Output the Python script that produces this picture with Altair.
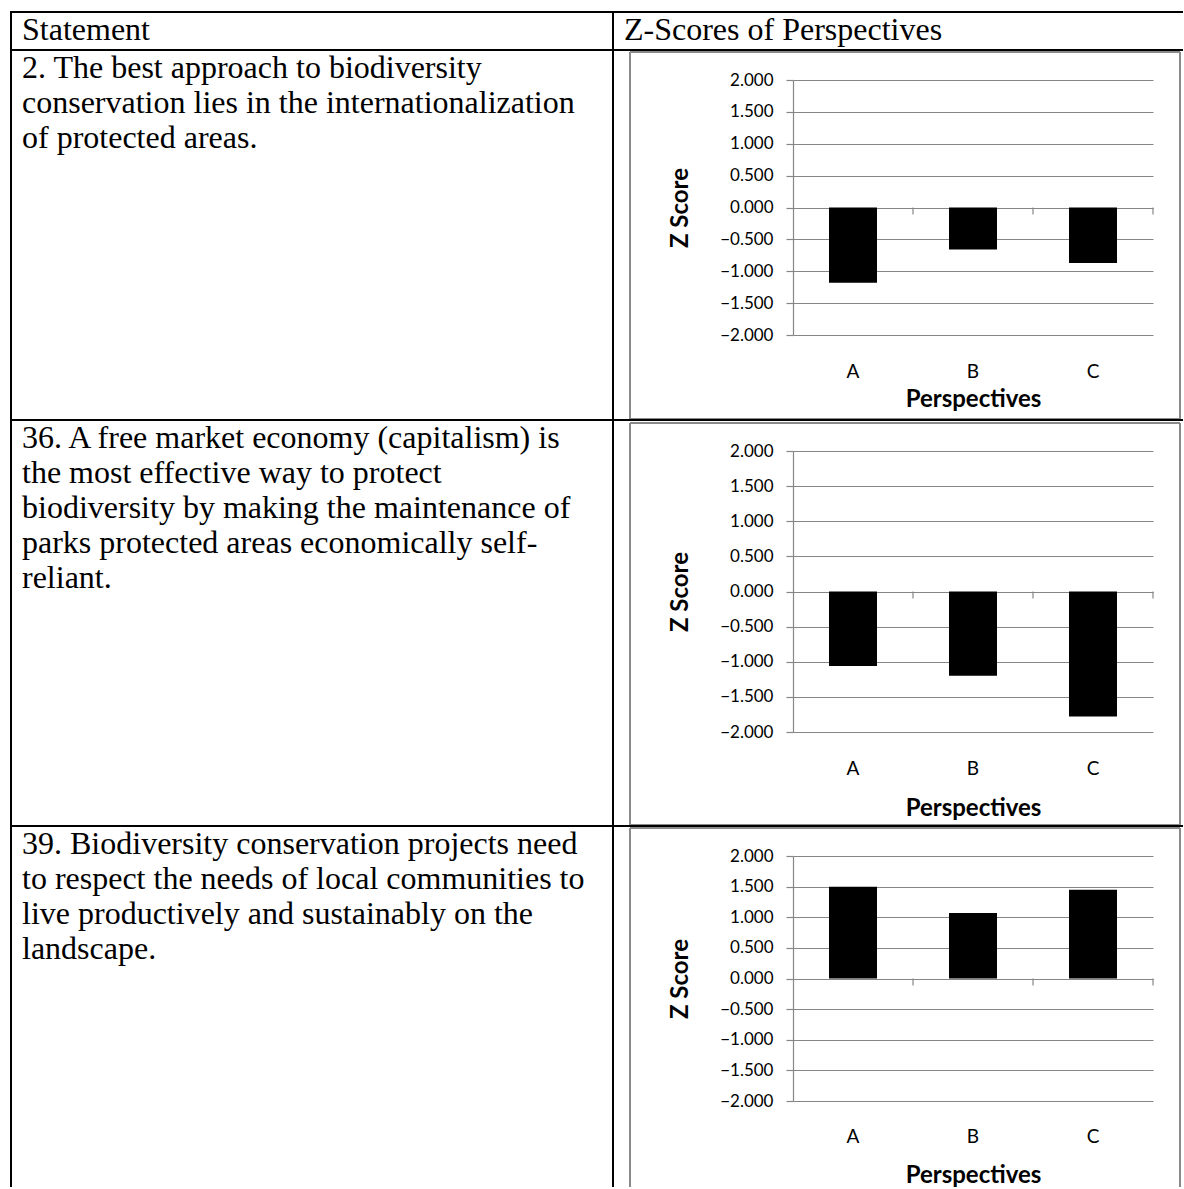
import altair as alt
import pandas as pd

# ---------------- data ----------------
perspectives = ["A", "B", "C"]
statements = [
    "2. The best approach to biodiversity\nconservation lies in the internationalization\nof protected areas.",
    "36. A free market economy (capitalism) is\nthe most effective way to protect\nbiodiversity by making the maintenance of\nparks protected areas economically self-\nreliant.",
    "39. Biodiversity conservation projects need\nto respect the needs of local communities to\nlive productively and sustainably on the\nlandscape.",
]
z_statement_2 = [-1.18, -0.66, -0.87]
z_statement_36 = [-1.06, -1.20, -1.78]
z_statement_39 = [1.50, 1.07, 1.45]
z_rows = [z_statement_2, z_statement_36, z_statement_39]
y_tick_values = [-2.0, -1.5, -1.0, -0.5, 0.0, 0.5, 1.0, 1.5, 2.0]
header_labels = ["Statement", "Z-Scores of Perspectives"]
y_title = "Z Score"
x_title = "Perspectives"

# ---------------- layout (page pixels) ----------------
PLOT_X = 793
PLOT_W = 360
PLOT_TOP = [80, 451, 856]
PLOT_H = [255, 281, 245]
HEADER_TOP = 12
ROW_TOP = [50, 420, 826]
TABLE_LEFT = 11
TABLE_MID = 613
PAGE_RIGHT = 1183
PAGE_BOTTOM = 1187
FRAME_L, FRAME_R = 630, 1180
FRAME_TB = [(52, 419), (423, 825), (828, None)]
XLAB_PAD = [27, 27, 26]
XTITLE_Y = [64, 76, 74]
TEXT_X_LEFT = 22
TEXT_X_RIGHT = 624
TEXT_SIZE = 32
TEXT_BASE = 28
LINE_H = 35

GRID = "#868686"
FRAME = "#8a8a8a"

ox, oy = PLOT_X, PLOT_TOP[0]
one = pd.DataFrame({"k": [0]})


def hline(y, x1, x2, color="black", w=2):
    return alt.Chart(one).mark_rule(color=color, strokeWidth=w).encode(
        x=alt.value(x1 - ox), x2=alt.value(x2 - ox), y=alt.value(y - oy)
    )


def vline(x, y1, y2, color="black", w=2):
    return alt.Chart(one).mark_rule(color=color, strokeWidth=w).encode(
        x=alt.value(x - ox), y=alt.value(y1 - oy), y2=alt.value(y2 - oy)
    )


def label(txt, x, y, size=TEXT_SIZE):
    return alt.Chart(one).mark_text(
        align="left", baseline="alphabetic", font="Liberation Serif",
        fontSize=size, lineBreak="\n", lineHeight=LINE_H, color="black"
    ).encode(x=alt.value(x - ox), y=alt.value(y - oy), text=alt.value(txt))


overlay = []
# white anchor so the page starts at (0, 0)
overlay.append(hline(0.5, 0.5, PAGE_RIGHT + 0.5, color="white", w=1))
# grey chart frames
for (t, b) in FRAME_TB:
    bb = b if b is not None else PAGE_BOTTOM
    overlay.append(hline(t, FRAME_L, FRAME_R, color=FRAME, w=2))
    overlay.append(vline(FRAME_L, t, bb, color=FRAME, w=2))
    overlay.append(vline(FRAME_R, t, bb, color=FRAME, w=2))
    if b is not None:
        overlay.append(hline(b, FRAME_L, FRAME_R, color=FRAME, w=2))
# black table lines
for y in [HEADER_TOP] + ROW_TOP:
    overlay.append(hline(y, TABLE_LEFT - 1, PAGE_RIGHT))
overlay.append(vline(TABLE_LEFT, HEADER_TOP - 1, PAGE_BOTTOM))
overlay.append(vline(TABLE_MID, HEADER_TOP - 1, PAGE_BOTTOM))
# header and statements
overlay.append(label(header_labels[0], TEXT_X_LEFT, HEADER_TOP + 28))
overlay.append(label(header_labels[1], TEXT_X_RIGHT, HEADER_TOP + 28))
for i, s in enumerate(statements):
    overlay.append(label(s, TEXT_X_LEFT, ROW_TOP[i] + TEXT_BASE))


def row_chart(i):
    H = PLOT_H[i]
    df = pd.DataFrame({"Perspective": perspectives, "Z": z_rows[i]})
    xscale = alt.Scale(domain=perspectives, paddingInner=0, paddingOuter=0)
    xaxis = alt.Axis(
        title=x_title, labelAngle=0, domain=False, ticks=False, tickSize=0,
        grid=False, labelFont="Lato", labelFontSize=19, labelColor="black",
        labelPadding=XLAB_PAD[i], titleFont="Lato", titleFontSize=24,
        titleFontWeight="bold", titleColor="black", titleY=XTITLE_Y[i],
        titleBaseline="middle",
    )
    yaxis = alt.Axis(
        values=y_tick_values, format=".3f", title=y_title,
        labelFont="Lato", labelFontSize=17, labelColor="black", labelPadding=13,
        tickSize=7, tickColor=GRID, domainColor=GRID, gridColor=GRID,
        gridWidth=1.2, domainWidth=1.2, tickWidth=1.2,
        titleFont="Lato", titleFontSize=24, titleFontWeight="bold",
        titleColor="black", titleX=-113, titleY=H / 2, titleAngle=270,
        titleAlign="center", titleBaseline="middle",
    )
    bars = alt.Chart(df).mark_bar(
        color="black", width=alt.RelativeBandSize(band=0.4)
    ).encode(
        x=alt.X("Perspective:N", sort=perspectives, scale=xscale, axis=xaxis),
        y=alt.Y("Z:Q", scale=alt.Scale(domain=[-2, 2], nice=False, zero=False), axis=yaxis),
    )
    ticks = alt.Chart(df).mark_rule(color=GRID, strokeWidth=1.2).encode(
        x=alt.X("Perspective:N", sort=perspectives, scale=xscale, axis=xaxis, bandPosition=1),
        y=alt.value(H / 2),
        y2=alt.value(H / 2 + 7),
    )
    layers = (overlay if i == 0 else []) + [bars, ticks]
    return alt.layer(*layers).properties(width=PLOT_W, height=H)


def spacer(h):
    return alt.Chart(one).mark_rule(opacity=0).encode(
        x=alt.value(0), y=alt.value(0)
    ).properties(width=PLOT_W, height=h)


gap1 = PLOT_TOP[1] - (PLOT_TOP[0] + PLOT_H[0])
gap2 = PLOT_TOP[2] - (PLOT_TOP[1] + PLOT_H[1])

chart = alt.vconcat(
    row_chart(0), spacer(gap1), row_chart(1), spacer(gap2), row_chart(2),
    spacing=0, bounds="flush",
).properties(padding=0, background="white").configure_view(stroke=None)

chart.save("out.html", embed_options={"renderer": "svg", "actions": False})
